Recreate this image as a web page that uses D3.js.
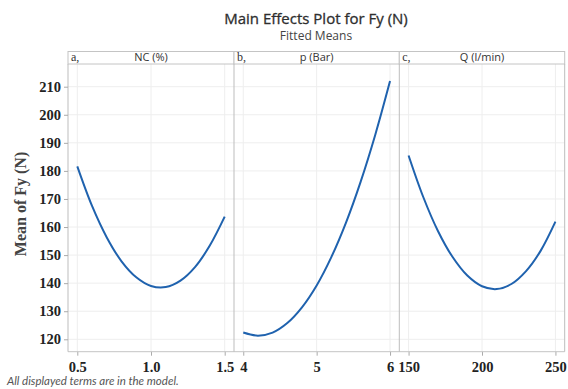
<!DOCTYPE html>
<html><head><meta charset="utf-8">
<script src="https://cdn.jsdelivr.net/npm/d3@7/dist/d3.min.js"></script>
<style>body{margin:0;background:#fff}</style>
</head><body>
<script>
// ---- data ----
const panelLetters = ["a,", "b,", "c,"];
const panelTitles = ["NC (%)", "p (Bar)", "Q (l/min)"];
const ncX = [0.5, 0.6, 0.7, 0.8, 0.9, 1.0, 1.1, 1.2, 1.3, 1.4, 1.5];
const ncY = [181.6, 167.5, 156.3, 147.8, 142.1, 139.0, 138.6, 140.9, 145.8, 153.5, 163.7];
const pX = [4.0, 4.2, 4.4, 4.6, 4.8, 5.0, 5.2, 5.4, 5.6, 5.8, 6.0];
const pY = [122.4, 121.3, 122.4, 125.8, 131.4, 139.2, 149.3, 161.6, 176.2, 193.0, 212.0];
const qX = [150, 160, 170, 180, 190, 200, 210, 220, 230, 240, 250];
const qY = [185.5, 170.7, 158.6, 149.3, 142.7, 138.9, 137.9, 139.7, 144.3, 151.6, 161.9];
const ncTicks = [0.5, 1.0, 1.5];
const pTicks = [4, 5, 6];
const qTicks = [150, 200, 250];
const yTicks = [120, 130, 140, 150, 160, 170, 180, 190, 200, 210];

const W = 568, H = 389;
const svg = d3.select("body").append("svg").attr("width", W).attr("height", H);

const plotTop = 64, plotBottom = 351.7, stripTop = 51.5;
const panelEdges = [[68, 234], [234, 399.3], [399.3, 564.7]];
const panels = [
  {x: ncX, y: ncY, ticks: ncTicks, dom: [0.5, 1.5], fmt: d3.format(".1f")},
  {x: pX, y: pY, ticks: pTicks, dom: [4, 6], fmt: d3.format("d")},
  {x: qX, y: qY, ticks: qTicks, dom: [150, 250], fmt: d3.format("d")}
];

const y = d3.scaleLinear().domain([120, 210]).range([339.3, 86.7]);

// titles
svg.append("text").attr("x", 316).attr("y", 24).attr("text-anchor", "middle")
  .attr("font-family", "Open Sans, Noto Sans, sans-serif").attr("font-size", 15)
  .attr("fill", "#2e2e2e").attr("stroke", "#2e2e2e").attr("stroke-width", 0.3)
  .text("Main Effects Plot for Fy (N)");
svg.append("text").attr("x", 316).attr("y", 40).attr("text-anchor", "middle")
  .attr("font-family", "Open Sans, Noto Sans, sans-serif").attr("font-size", 12)
  .attr("fill", "#444").text("Fitted Means");

const serif = "Liberation Serif, Times New Roman, serif";

panels.forEach((p, i) => {
  const [x0, x1] = panelEdges[i];
  const pad = (x1 - x0) * 0.053;
  const x = d3.scaleLinear().domain(p.dom).range([x0 + pad + 0.5, x1 - pad - 0.5]);
  const g = svg.append("g");
  // gridlines
  g.selectAll(".vg").data(p.ticks).join("line")
    .attr("x1", d => x(d)).attr("x2", d => x(d)).attr("y1", plotTop).attr("y2", plotBottom)
    .attr("stroke", "#eeeeee").attr("stroke-width", 1);
  g.selectAll(".hg").data(yTicks).join("line")
    .attr("x1", x0).attr("x2", x1).attr("y1", d => y(d)).attr("y2", d => y(d))
    .attr("stroke", "#eeeeee").attr("stroke-width", 1);
  // curve
  const pts = p.x.map((v, k) => [v, p.y[k]]);
  g.append("path").datum(pts)
    .attr("d", d3.line().x(d => x(d[0])).y(d => y(d[1])).curve(d3.curveCatmullRom))
    .attr("fill", "none").attr("stroke", "#1f62ae").attr("stroke-width", 2);
  // x axis
  const ax = g.append("g").attr("transform", `translate(0,${plotBottom})`)
    .call(d3.axisBottom(x).tickValues(p.ticks).tickFormat(p.fmt).tickSize(4).tickSizeOuter(0));
  ax.select(".domain").remove();
  ax.selectAll(".tick line").attr("stroke", "#aaa");
  ax.selectAll(".tick text").attr("font-family", serif).attr("font-weight", "bold")
    .attr("font-size", 14.5).attr("fill", "#222").attr("dy", "0.95em");
  // strip
  g.append("rect").attr("x", x0).attr("y", stripTop).attr("width", x1 - x0).attr("height", plotTop - stripTop)
    .attr("fill", "#fff").attr("stroke", "#c4c4c4").attr("stroke-width", 1);
  g.append("text").attr("x", x0 + 3).attr("y", plotTop - 3.5).attr("font-family", serif)
    .attr("font-size", 12).attr("fill", "#333").text(panelLetters[i]);
  g.append("text").attr("x", (x0 + x1) / 2).attr("y", plotTop - 3.3).attr("text-anchor", "middle")
    .attr("font-family", "Open Sans, Noto Sans, sans-serif").attr("font-size", 11)
    .attr("fill", "#333").text(panelTitles[i]);
});

// panel frame lines
svg.append("line").attr("x1", 68).attr("x2", 564.7).attr("y1", plotBottom).attr("y2", plotBottom).attr("stroke", "#c4c4c4");
[68, 234, 399.3, 564.7].forEach(xx => {
  svg.append("line").attr("x1", xx).attr("x2", xx).attr("y1", plotTop).attr("y2", plotBottom)
    .attr("stroke", "#bdbdbd").attr("stroke-width", 1);
});

// y axis
const ay = svg.append("g").attr("transform", "translate(68,0)")
  .call(d3.axisLeft(y).tickValues(yTicks).tickSize(4).tickSizeOuter(0));
ay.select(".domain").remove();
ay.selectAll(".tick line").attr("stroke", "#aaa");
ay.selectAll(".tick text").attr("font-family", serif).attr("font-weight", "bold")
  .attr("font-size", 14.5).attr("fill", "#222").attr("x", -7);

svg.append("text").attr("transform", "translate(26,204) rotate(-90)").attr("text-anchor", "middle")
  .attr("font-family", serif).attr("font-weight", "bold").attr("font-size", 16)
  .attr("fill", "#444").text("Mean of Fy (N)");

svg.append("text").attr("x", 7).attr("y", 385).attr("font-family", "Lato, Open Sans, sans-serif")
  .attr("font-style", "italic").attr("font-size", 11.5).attr("fill", "#555")
  .text("All displayed terms are in the model.");
</script>
</body></html>
